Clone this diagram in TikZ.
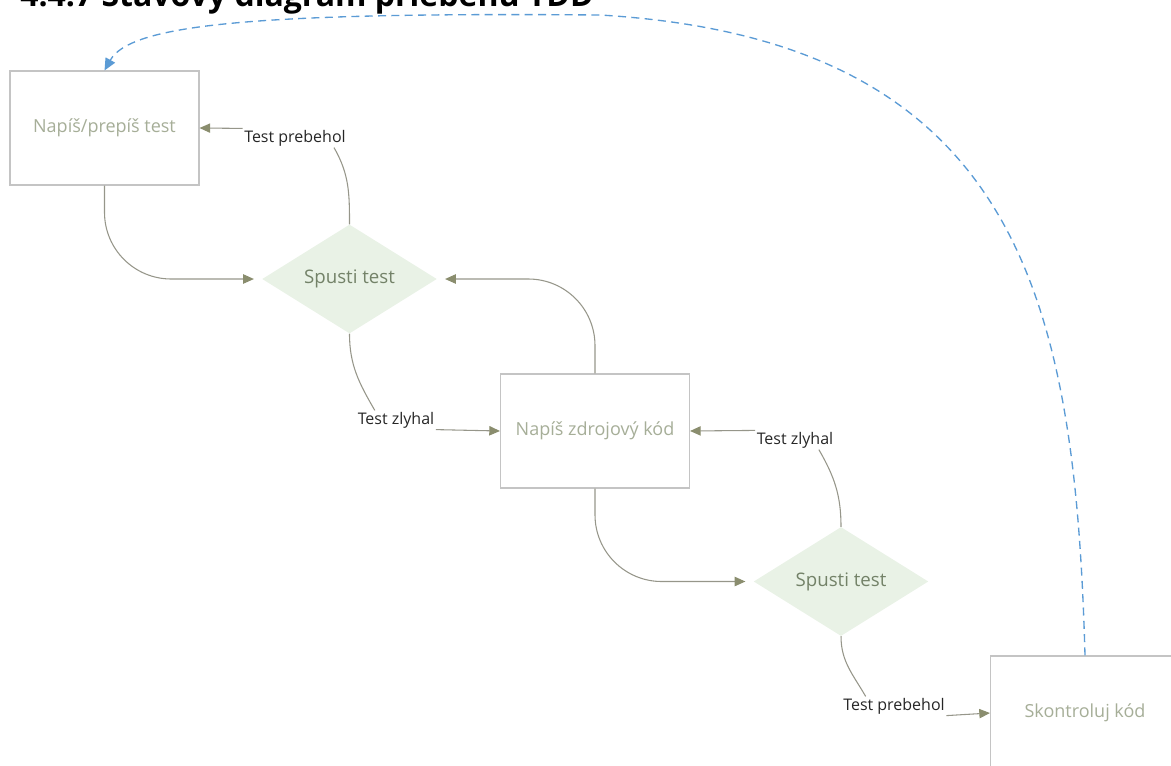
\documentclass[tikz,border=0pt]{standalone}
\usepackage{fontspec}
\setmainfont{Open Sans}
\usepackage{xcolor}
\usetikzlibrary{shapes.geometric,arrows.meta}

\definecolor{boxline}{RGB}{196,196,196}
\definecolor{boxtext}{RGB}{166,174,152}
\definecolor{dfill}{RGB}{233,242,230}
\definecolor{dtext}{RGB}{115,130,104}
\definecolor{linkline}{RGB}{150,150,138}
\definecolor{linktip}{RGB}{138,141,110}
\definecolor{backblue}{RGB}{91,155,213}

\begin{document}
\begin{tikzpicture}[x=0.75pt,y=0.75pt,yscale=-1,xscale=1,
  statebox/.style={draw=boxline,fill=white,line width=0.8pt,minimum width=141.75pt,minimum height=85.5pt,inner sep=0pt,text=boxtext,font=\fontsize{13.5}{15}\selectfont},
  testdiam/.style={diamond,fill=dfill,minimum width=131pt,minimum height=81pt,inner sep=0pt,text=dtext,font=\fontsize{14}{16}\selectfont},
  lbl/.style={inner sep=1pt,text=black!85,font=\fontsize{12}{14}\selectfont},
  link/.style={draw=linkline,line width=0.8pt,-{Triangle[length=8pt,width=7pt,color=linktip]}},
  flow/.style={draw=linkline,line width=0.8pt}]
\clip (0,0) rectangle (1171,765);

% Title (cut at the top edge)
\node [anchor=base west,inner sep=0pt,font=\fontsize{24}{28}\selectfont\bfseries] (title) at (20,6) {4.4.7 Stavový diagram priebehu TDD};

% States
\node [statebox] (write) at (104.5,128) {Napíš/prepíš test};
\node [testdiam] (run1) at (349.5,279) {Spusti test};
\node [statebox] (code) at (595,431) {Napíš zdrojový kód};
\node [testdiam] (run2) at (841,581.5) {Spusti test};
\node [statebox] (review) at (1085,713) {Skontroluj kód};

% Text Node
\node [lbl] (pass1) at (295,138) {Test prebehol};
\node [lbl] (fail1) at (396,420) {Test zlyhal};
\node [lbl] (fail2) at (795,440) {Test zlyhal};
\node [lbl] (pass2) at (894,706) {Test prebehol};

% Connectors
\draw [link,rounded corners=50pt,shorten >=6pt] (write.south) |- (run1.west);
\draw [flow] (run1.north) to[out=-90,in=60] ([xshift=-10pt]pass1.south east);
\draw [link] (pass1.north west) -- (write.east);
\draw [flow] (run1.south) to[out=90,in=-120] ([xshift=14pt]fail1.north west);
\draw [link] (fail1.south east) -- (code.west);
\draw [link,rounded corners=50pt,shorten >=6pt] (code.north) |- (run1.east);
\draw [link,rounded corners=50pt,shorten >=6pt] (code.south) |- (run2.west);
\draw [flow] (run2.north) to[out=-90,in=60] ([xshift=-12pt]fail2.south east);
\draw [link] (fail2.north west) -- (code.east);
\draw [flow] (run2.south) to[out=90,in=-120] ([xshift=18pt]pass2.north west);
\draw [link] (pass2.south east) -- (review.west);

% Back to the first state
\draw [backblue,line width=1pt,dash pattern=on 6pt off 4pt,-{Triangle[length=9pt,width=8pt]}] (review.north) .. controls (1075,300) and (1020,40) .. (600,15) .. controls (250,12) and (130,25) .. (write.north);

\end{tikzpicture}
\end{document}
